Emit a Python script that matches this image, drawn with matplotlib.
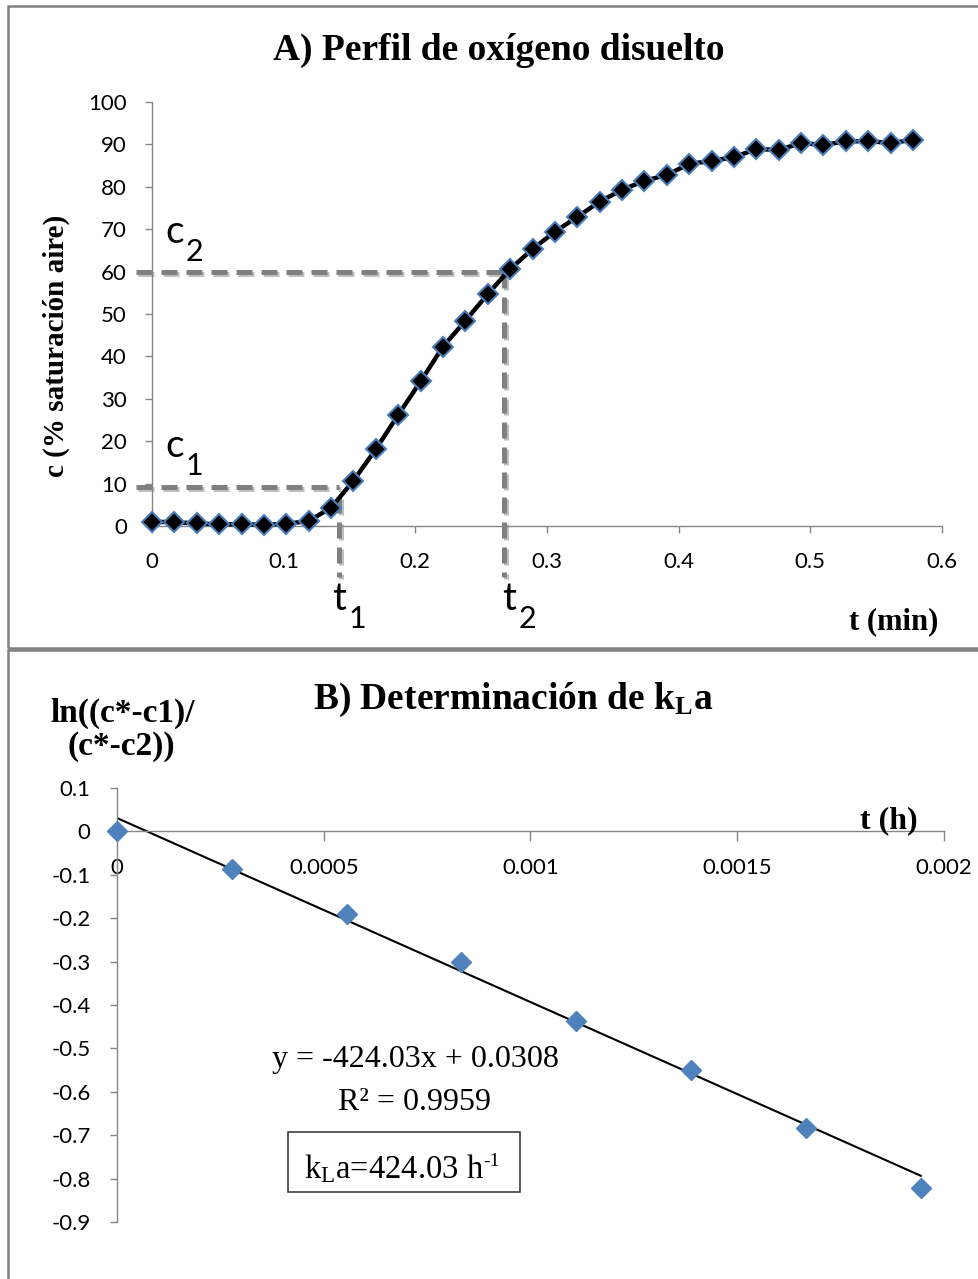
import matplotlib
matplotlib.use("Agg")
import matplotlib.pyplot as plt
import matplotlib.patheffects as pe
from matplotlib.patches import Rectangle
import numpy as np

# A) dissolved oxygen profile
t_min = [0, 0.017, 0.034, 0.051, 0.068, 0.085, 0.102, 0.119, 0.136, 0.153,
         0.170, 0.187, 0.204, 0.221, 0.238, 0.255, 0.272, 0.289, 0.306, 0.323,
         0.340, 0.357, 0.374, 0.391, 0.408, 0.425, 0.442, 0.459, 0.476, 0.493,
         0.510, 0.527, 0.544, 0.561, 0.578]
c_sat = [1.0, 0.9, 0.6, 0.4, 0.4, 0.3, 0.5, 1.2, 4.3, 10.7,
         18.1, 26.2, 34.1, 42.3, 48.4, 54.7, 60.6, 65.3, 69.4, 72.9,
         76.5, 79.3, 81.4, 82.8, 85.4, 86.1, 87.0, 88.9, 88.7, 90.3,
         89.9, 90.7, 90.8, 90.3, 91.1]
c1, c2 = 9.3, 60.0
t1, t2 = 0.142, 0.267

# B) kLa determination
t_h = [0, 0.000278, 0.000556, 0.000833, 0.001111, 0.001389, 0.001667, 0.001944]
ln_ratio = [0, -0.087, -0.190, -0.302, -0.437, -0.549, -0.683, -0.821]
slope, intercept = -424.03, 0.0308

W, H = 979, 1279
fig = plt.figure(figsize=(W / 100, H / 100), dpi=100)

def fx(x):
    return x / W

def fy(y):
    return 1 - y / H

axis_grey = "#868686"
serif = "Liberation Serif"
sans = "Lato"
plt.rcParams["font.family"] = sans

# panel borders
fig.add_artist(Rectangle((fx(8), fy(648)), 1.0, fy(6) - fy(648), transform=fig.transFigure,
                         fill=False, ec="#808080", lw=1.8))
fig.add_artist(Rectangle((fx(8), -0.02), 1.0, fy(650) + 0.02, transform=fig.transFigure,
                         fill=False, ec="#808080", lw=1.8))

def style_axis(ax):
    for s in ["top", "right"]:
        ax.spines[s].set_visible(False)
    for s in ["left", "bottom"]:
        ax.spines[s].set_color(axis_grey)
        ax.spines[s].set_linewidth(1.0)
    ax.tick_params(color=axis_grey, width=1.0, length=5, labelsize=16)

# ---------- A ----------
ax1 = fig.add_axes([fx(152), fy(526), fx(942) - fx(152), fy(102) - fy(526)])
style_axis(ax1)
ax1.set_xlim(0, 0.6)
ax1.set_ylim(0, 100)
ax1.set_xticks(np.arange(0, 0.61, 0.1))
ax1.set_xticklabels(["0", "0.1", "0.2", "0.3", "0.4", "0.5", "0.6"])
ax1.set_yticks(range(0, 101, 10))
ax1.tick_params(axis="x", pad=14)
ax1.tick_params(axis="y", pad=13)

guide = dict(color="#808080", lw=3.6, dashes=(3.2, 1.8), clip_on=False, zorder=2,
             path_effects=[pe.SimpleLineShadow(offset=(1.5, -1.5), alpha=0.25), pe.Normal()])
ax1.plot([-0.012, t1], [c1, c1], **guide)
ax1.plot([t1, t1], [c1 - 2.5, -12], **guide)
ax1.plot([-0.012, t2], [c2, c2], **guide)
ax1.plot([t2, t2], [c2, -12], **guide)

ax1.plot(t_min, c_sat, color="black", lw=3.2, marker="D", ms=10.5, mfc="black",
         mec="#4A7EBB", mew=1.5, zorder=3, clip_on=False)

# point labels: letter + lowered subscript
def sub_label(ax, x, y, base, sub, dx):
    ax.text(x, y, base, fontsize=28, family=sans, ha="left", va="baseline", clip_on=False)
    ax.annotate(sub, (x, y), xytext=(dx, -13), textcoords="offset points",
                fontsize=22, family=sans, ha="left", va="baseline", annotation_clip=False)

sub_label(ax1, 0.010, 66.7, "c", "2", 15)
sub_label(ax1, 0.010, 16.3, "c", "1", 15)
sub_label(ax1, 0.137, -19.8, "t", "1", 11.5)
sub_label(ax1, 0.266, -19.8, "t", "2", 12)

fig.text(fx(499), fy(50), "A) Perfil de oxígeno disuelto", ha="center", va="center",
         family=serif, weight="bold", fontsize=27)
fig.text(fx(56), fy(346), "c (% saturación aire)", ha="center", va="center", rotation=90,
         family=serif, weight="bold", fontsize=21)
fig.text(fx(894), fy(622), "t (min)", ha="center", va="center",
         family=serif, weight="bold", fontsize=22)

# ---------- B ----------
ax2 = fig.add_axes([fx(117), fy(1222), fx(944) - fx(117), fy(788) - fy(1222)])
style_axis(ax2)
ax2.spines["bottom"].set_position(("data", 0))
ax2.set_xlim(0, 0.002)
ax2.set_ylim(-0.9, 0.1)
ax2.set_xticks([0, 0.0005, 0.001, 0.0015, 0.002])
ax2.set_xticklabels(["0", "0.0005", "0.001", "0.0015", "0.002"])
yt = np.round(np.arange(-0.9, 0.101, 0.1), 1)
ax2.set_yticks(yt)
ax2.set_yticklabels([("0" if v == 0 else "%g" % v) for v in yt])
ax2.tick_params(axis="x", length=7, pad=12)
ax2.tick_params(axis="y", pad=14)

ax2.plot(t_h, ln_ratio, ls="none", marker="D", ms=10.5, color="#4F81BD", mec="#4F81BD",
         zorder=3, clip_on=False)
x_fit = np.array([0, t_h[-1]])
ax2.plot(x_fit, slope * x_fit + intercept, color="black", lw=1.5, zorder=2)

fig.text(fx(513), fy(700), r"B) Determinación de $\mathregular{k_L}$a", ha="center", va="center",
         family=serif, weight="bold", fontsize=27)
fig.text(fx(123), fy(713), "ln((c*-c1)/", ha="center", va="center",
         family=serif, weight="bold", fontsize=24)
fig.text(fx(121), fy(747), "(c*-c2))", ha="center", va="center",
         family=serif, weight="bold", fontsize=24)
fig.text(fx(889), fy(821), "t (h)", ha="center", va="center",
         family=serif, weight="bold", fontsize=23)

fig.text(fx(415), fy(1059), "y = -424.03x + 0.0308", ha="center", va="center",
         family=serif, fontsize=23)
fig.text(fx(415), fy(1102), "R² = 0.9959", ha="center", va="center",
         family=serif, fontsize=23)
fig.add_artist(Rectangle((fx(288), fy(1192)), fx(520) - fx(288), fy(1132) - fy(1192),
                         transform=fig.transFigure, fill=False, ec="#404040", lw=1.2))
fig.text(fx(304), fy(1178), r"$\mathregular{k_L}$a=424.03 h", ha="left", va="baseline",
         family=serif, fontsize=23.5)
fig.text(fx(483), fy(1166), "-1", ha="left", va="baseline", family=serif, fontsize=14)

fig.savefig("out.png", dpi=100)
